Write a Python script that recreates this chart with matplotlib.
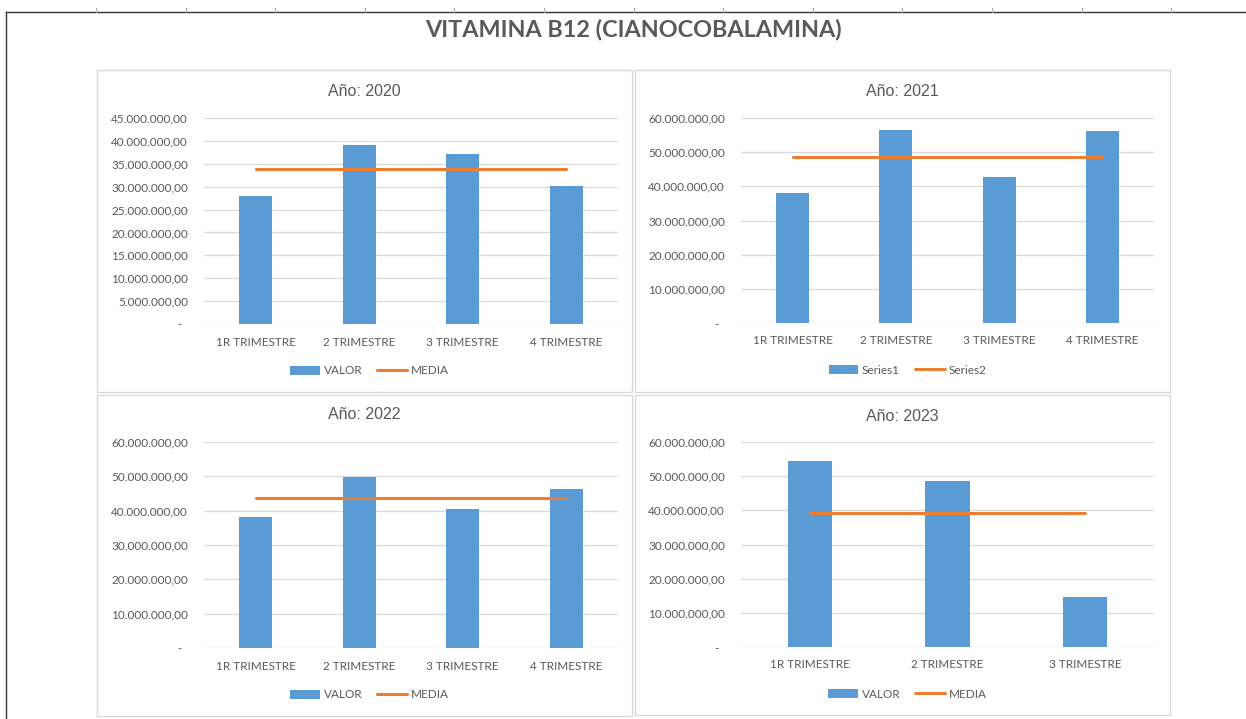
import matplotlib.pyplot as plt
import numpy as np
from matplotlib.patches import Rectangle
from matplotlib.lines import Line2D
from matplotlib.ticker import FuncFormatter, MultipleLocator

W, H = 1246, 719

# datos
quarters4 = ['1R TRIMESTRE', '2 TRIMESTRE', '3 TRIMESTRE', '4 TRIMESTRE']
quarters3 = ['1R TRIMESTRE', '2 TRIMESTRE', '3 TRIMESTRE']

valor_2020 = [28.0e6, 39.0e6, 37.2e6, 30.1e6]
media_2020 = 33.8e6
valor_2021 = [38.1e6, 56.4e6, 42.6e6, 56.1e6]
media_2021 = 48.5e6
valor_2022 = [38.3e6, 49.8e6, 40.6e6, 46.2e6]
media_2022 = 43.8e6
valor_2023 = [54.5e6, 48.6e6, 14.5e6]
media_2023 = 39.3e6

BLUE = '#5B9BD5'
ORANGE = '#ED7D31'
GRAY = '#595959'
GRID = '#D9D9D9'
FONT = 'Lato'


def fmt(v, pos):
    if abs(v) < 1:
        return '-  '
    s = '{:,.2f}'.format(v)
    return s.replace(',', 'X').replace('.', ',').replace('X', '.')


def rect(l, t, r, b):
    return [l / W, 1 - b / H, (r - l) / W, (b - t) / H]


fig = plt.figure(figsize=(W / 100, H / 100), dpi=100)

# lineas de la hoja
fig.add_artist(Line2D([6 / W, 1], [1 - 12 / H, 1 - 12 / H], color='#333333', lw=1))
fig.add_artist(Line2D([6 / W, 6 / W], [1 - 12 / H, 0], color='#333333', lw=1))
for xt in np.arange(96, W, 89.6):
    fig.add_artist(Line2D([xt / W, xt / W], [1 - 8 / H, 1 - 12 / H], color='#AAAAAA', lw=0.8))

fig.text(633 / W, 1 - 30 / H, 'VITAMINA B12 (CIANOCOBALAMINA)', ha='center', va='center',
         fontsize=16.8, fontweight='bold', color=GRAY, family=FONT)

panels = [
    dict(box=(97, 70, 632, 392), plot=(204, 118, 618, 324), title='Año: 2020', ty=91, ly=371,
         cats=quarters4, vals=valor_2020, media=media_2020, ymax=45e6, step=5e6,
         labels=['VALOR', 'MEDIA']),
    dict(box=(635, 70, 1170, 392), plot=(741, 118, 1154, 323), title='Año: 2021', ty=91, ly=370,
         cats=quarters4, vals=valor_2021, media=media_2021, ymax=60e6, step=10e6,
         labels=['Series1', 'Series2']),
    dict(box=(97, 395, 632, 716), plot=(204, 442, 618, 648), title='Año: 2022', ty=415, ly=695,
         cats=quarters4, vals=valor_2022, media=media_2022, ymax=60e6, step=10e6,
         labels=['VALOR', 'MEDIA']),
    dict(box=(635, 395, 1170, 715), plot=(741, 442, 1154, 647), title='Año: 2023', ty=416, ly=694,
         cats=quarters3, vals=valor_2023, media=media_2023, ymax=60e6, step=10e6,
         labels=['VALOR', 'MEDIA']),
]

for p in panels:
    x0, y0, x1, y1 = p['box']
    fig.add_artist(Rectangle((x0 / W, 1 - y1 / H), (x1 - x0) / W, (y1 - y0) / H,
                             transform=fig.transFigure, fill=False, edgecolor=GRID, lw=1))
    cx = (x0 + x1) / 2
    fig.text(cx / W, 1 - p['ty'] / H, p['title'], ha='center', va='center',
             fontsize=11.5, color=GRAY, family='Liberation Sans')

    ax = fig.add_axes(rect(*p['plot']))
    x = np.arange(len(p['cats']))
    bars = ax.bar(x, p['vals'], width=0.32, color=BLUE, zorder=2)
    line, = ax.plot(x, [p['media']] * len(x), color=ORANGE, lw=2.2,
                    solid_capstyle='round', zorder=3)
    ax.set_xlim(-0.5, len(x) - 0.5)
    ax.set_ylim(0, p['ymax'])
    ax.yaxis.set_major_locator(MultipleLocator(p['step']))
    ax.yaxis.set_major_formatter(FuncFormatter(fmt))
    ax.set_xticks(x)
    ax.set_xticklabels(p['cats'])
    ax.grid(axis='y', color=GRID, lw=0.9, zorder=0)
    ax.set_axisbelow(True)
    for s in ax.spines.values():
        s.set_visible(False)
    ax.tick_params(axis='both', length=0, colors=GRAY, labelsize=8.5)
    ax.tick_params(axis='y', pad=11.5)
    ax.tick_params(axis='x', pad=9)
    for lab in ax.get_xticklabels() + ax.get_yticklabels():
        lab.set_family(FONT)

    ax.legend([bars, line], p['labels'], loc='center', bbox_to_anchor=((cx + 5) / W, 1 - p['ly'] / H),
              bbox_transform=fig.transFigure, ncol=2, frameon=False, handlelength=2.5,
              handleheight=0.7, handletextpad=0.3, columnspacing=1.3,
              prop={'family': FONT, 'size': 8.5}, labelcolor=GRAY)

fig.savefig('out.png', dpi=100)
